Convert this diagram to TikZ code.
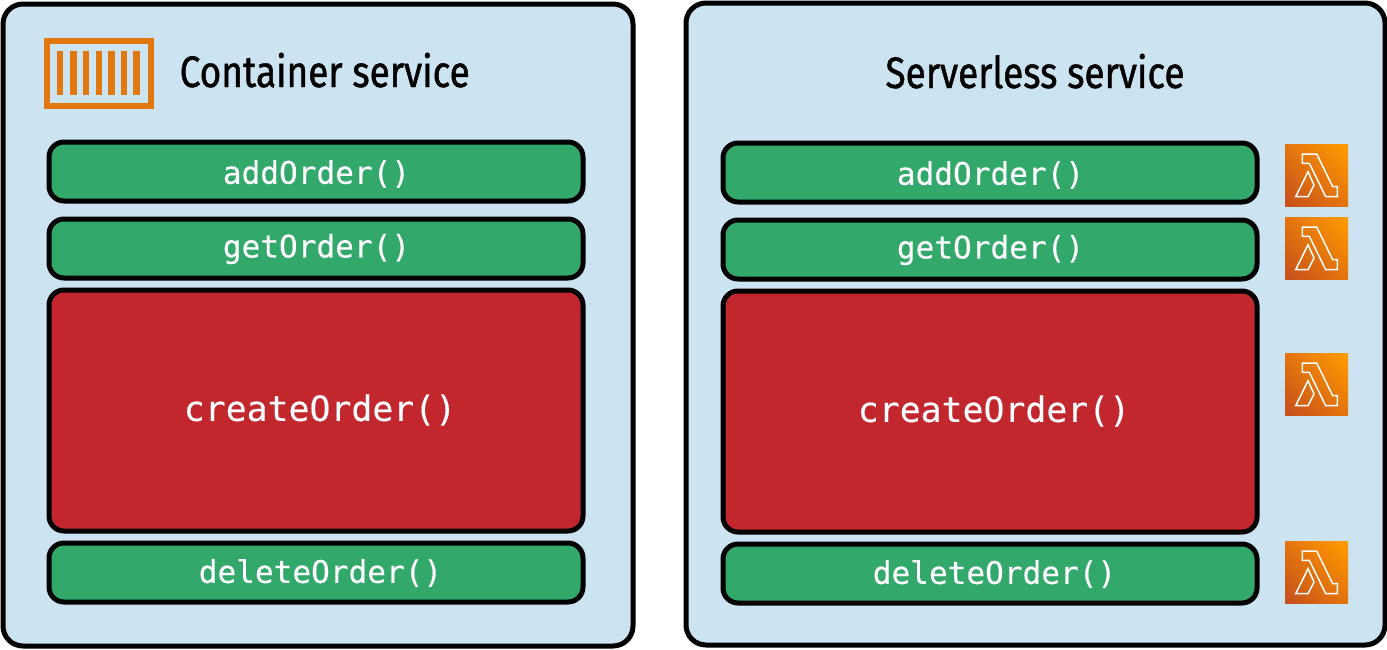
\documentclass[tikz,border=0pt]{standalone}
\usepackage{fontspec}
\setmainfont{Fira Sans}
\newfontfamily\titlefont[FakeStretch=0.84,FakeBold=1.0]{Fira Sans}
\newfontfamily\codefont[FakeBold=0.25]{DejaVu Sans Mono}
\definecolor{panelblue}{HTML}{CCE3F1}
\definecolor{okgreen}{HTML}{33A86B}
\definecolor{hotred}{HTML}{C1272D}
\definecolor{iconorange}{HTML}{E0780F}
\definecolor{lamlight}{HTML}{FF9900}
\definecolor{lamdark}{HTML}{C8511B}
\pgfdeclarehorizontalshading{lamshade}{100bp}{color(0bp)=(lamdark);color(18bp)=(lamdark);color(82bp)=(lamlight);color(100bp)=(lamlight)}
\tikzset{
  x=1pt,y=-1pt,
  panel/.style={draw=black,line width=5pt,fill=panelblue,rounded corners=20pt},
  func/.style={draw=black,line width=5pt,fill=okgreen,rounded corners=15pt},
  hotfunc/.style={draw=black,line width=5pt,fill=hotred,rounded corners=15pt},
  codelabel/.style={text=white,inner sep=0pt,anchor=center,font=\codefont\fontsize{31.1}{36}\selectfont},
  biglabel/.style={text=white,inner sep=0pt,anchor=center,font=\codefont\fontsize{34.8}{40}\selectfont},
  titlelabel/.style={text=black,inner sep=0pt,anchor=base,font=\titlefont\fontsize{44}{50}\selectfont},
  bar/.style={fill=iconorange},
  lamsquare/.style={shading=lamshade,shading angle=45},
  lamglyph/.style={draw=white,line width=1.5pt,line join=miter},
}
\newcommand{\lambdaicon}[1]{%
  \shade[lamsquare] (1285,#1) rectangle (1348,#1+62.5);
  \begin{scope}[shift={(1285,#1)}]
    \draw[lamglyph] (17.3,10)--(31.7,10)--(47.7,42.7)--(52.3,42.7)--(52.3,52.7)--(40.7,52.7)--(24.3,19.3)--(17.3,19.3)--cycle;
    \draw[lamglyph] (23,27.7)--(29,41)--(23,52.7)--(10.7,52.7)--cycle;
  \end{scope}}
\begin{document}
\begin{tikzpicture}
\useasboundingbox (0,0) rectangle (1387,649);
\draw[panel] (3,4) rectangle (633,646);
\draw[panel] (686,3) rectangle (1385,645);
% container icon
\draw[draw=iconorange,line width=6pt] (47,41) rectangle (151,106);
\foreach \bx/\bw in {57/6.3,70/6.8,83/6.3,95.7/6.3,108/6.7,120.7/6.3,133.3/6.7}
  \fill[bar] (\bx,51) rectangle (\bx+\bw,94.7);
\node[titlelabel,anchor=base west] (t1) at (179.5,87) {Container service};
\node[titlelabel] (t2) at (1035,88) {Serverless service};
% left functions
\draw[func] (49,142) rectangle (583,201);
\node[codelabel] (a1) at (316.5,174) {addOrder()};
\draw[func] (49,219) rectangle (583,278);
\node[codelabel] (g1) at (316.5,249) {getOrder()};
\draw[hotfunc] (49,290) rectangle (583,531);
\node[biglabel] (c1) at (320,410) {createOrder()};
\draw[func] (49,543) rectangle (583,602);
\node[codelabel] (d1) at (320.5,573) {deleteOrder()};
% right functions
\draw[func] (723,143) rectangle (1257,202);
\node[codelabel] (a2) at (990.5,175) {addOrder()};
\draw[func] (723,220) rectangle (1257,279);
\node[codelabel] (g2) at (990.5,250) {getOrder()};
\draw[hotfunc] (723,291) rectangle (1257,532);
\node[biglabel] (c2) at (994,411) {createOrder()};
\draw[func] (723,544) rectangle (1257,603);
\node[codelabel] (d2) at (994.5,574) {deleteOrder()};
\lambdaicon{144}
\lambdaicon{217}
\lambdaicon{353}
\lambdaicon{541}
\end{tikzpicture}
\end{document}
